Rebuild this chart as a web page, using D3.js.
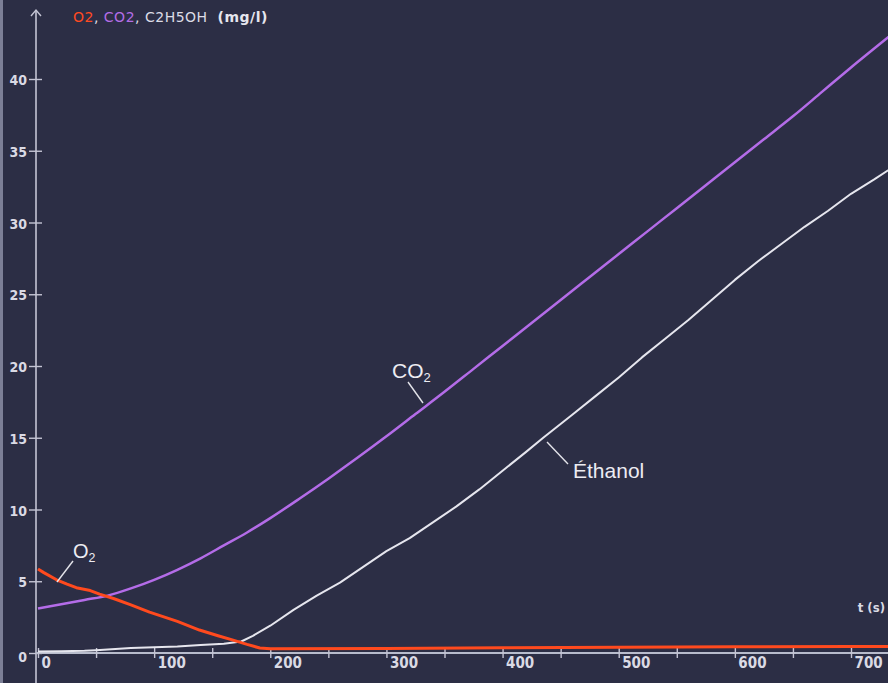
<!DOCTYPE html>
<html>
<head>
<meta charset="utf-8">
<script src="https://cdn.jsdelivr.net/npm/d3@7"></script>
<style>
  html, body { margin: 0; padding: 0; background: #2c2e45; }
  svg { display: block; }
</style>
</head>
<body>
<svg id="chart" width="888" height="683"></svg>
<script>
// ---- data ----
const xTicks = [0, 50, 100, 150, 200, 250, 300, 350, 400, 450, 500, 550, 600, 650, 700];
const yTicks = [0, 5, 10, 15, 20, 25, 30, 35, 40];

const o2T = [0, 5, 16, 25, 33, 45, 53, 65, 80, 96, 120, 139, 155, 168, 180, 191, 200, 300, 400, 500, 600, 700, 735];
const o2V = [5.85, 5.6, 5.1, 4.8, 4.55, 4.35, 4.1, 3.8, 3.35, 2.85, 2.2, 1.6, 1.2, 0.9, 0.6, 0.35, 0.3, 0.32, 0.36, 0.4, 0.43, 0.45, 0.46];

const co2T = [0, 20, 40, 60, 80, 100, 120, 140, 160, 180, 200, 225, 250, 275, 300, 325, 350, 375, 400, 425, 450, 475, 500, 525, 550, 575, 600, 625, 650, 675, 700, 735];
const co2V = [3.1, 3.4, 3.7, 4.0, 4.5, 5.1, 5.8, 6.6, 7.5, 8.4, 9.4, 10.75, 12.15, 13.6, 15.1, 16.65, 18.2, 19.8, 21.4, 23.0, 24.6, 26.2, 27.8, 29.4, 31.0, 32.6, 34.2, 35.8, 37.4, 39.1, 40.8, 43.1];

const ethT = [0, 20, 40, 50, 60, 80, 100, 120, 140, 160, 175, 185, 200, 220, 240, 260, 280, 300, 320, 340, 360, 380, 400, 420, 435, 460, 480, 500, 520, 540, 560, 580, 600, 620, 640, 660, 680, 700, 720, 735];
const ethV = [0.1, 0.12, 0.15, 0.2, 0.25, 0.35, 0.4, 0.45, 0.55, 0.65, 0.8, 1.2, 1.9, 3.0, 4.0, 4.9, 6.0, 7.1, 8.0, 9.1, 10.2, 11.4, 12.7, 14.0, 15.0, 16.6, 17.9, 19.2, 20.6, 21.9, 23.2, 24.6, 26.0, 27.3, 28.5, 29.7, 30.8, 32.0, 33.0, 33.8];

const titleParts = [
  { text: "O2", color: "#ff4a22" },
  { text: ", ", color: "#dcdce6" },
  { text: "CO2", color: "#b36de6" },
  { text: ", C2H5OH  ", color: "#dcdce6" },
  { text: "(mg/l)", color: "#e6e6ee", bold: true }
];

// ---- drawing ----
const svg = d3.select("#chart");
const W = 888, H = 683;

svg.append("rect").attr("width", W).attr("height", H).attr("fill", "#2c2e45");
svg.append("rect").attr("width", 3).attr("height", H).attr("fill", "#7c7f96");

const x = d3.scaleLinear().domain([0, 700]).range([38, 851]);
const y = d3.scaleLinear().domain([0, 40]).range([653, 79]);

const axisColor = "#c4c4d4";
const textColor = "#dadae4";
const tickFont = "DejaVu Sans Condensed, DejaVu Sans, sans-serif";

// Y axis line with arrow
svg.append("line").attr("x1", 36).attr("x2", 36).attr("y1", H).attr("y2", 10)
  .attr("stroke", axisColor).attr("stroke-width", 1.6);
svg.append("polyline").attr("points", "31,16 36,10 41,16")
  .attr("fill", "none").attr("stroke", axisColor).attr("stroke-width", 1.4);

// Y axis ticks + labels
const yAxis = svg.append("g").attr("transform", "translate(42,0)")
  .call(d3.axisLeft(y).tickValues(yTicks).tickSize(13).tickPadding(2));
yAxis.select(".domain").remove();
yAxis.selectAll(".tick line").attr("stroke", axisColor).attr("stroke-width", 1.4);
yAxis.selectAll(".tick text")
  .attr("fill", textColor)
  .attr("font-family", tickFont)
  .attr("font-weight", "bold")
  .attr("font-size", 14)
  .attr("dy", d => d === 0 ? "0.6em" : "0.4em");

// X axis line
svg.append("line").attr("x1", 36).attr("x2", W).attr("y1", y(0)).attr("y2", y(0))
  .attr("stroke", "#b8bccc").attr("stroke-width", 2);

const xAxis = svg.append("g").attr("transform", "translate(0,648)")
  .call(d3.axisBottom(x).tickValues(xTicks).tickSize(10).tickPadding(-1)
    .tickFormat(d => d % 100 === 0 ? d : ""));
xAxis.select(".domain").remove();
xAxis.selectAll(".tick line").attr("stroke", axisColor).attr("stroke-width", 1.4);
xAxis.selectAll(".tick text")
  .attr("fill", textColor)
  .attr("text-anchor", "start")
  .attr("dx", 3)
  .attr("font-family", tickFont)
  .attr("font-weight", "bold")
  .attr("font-size", 15);

// t (s) label
svg.append("text").attr("x", 885).attr("y", 612)
  .attr("text-anchor", "end")
  .attr("fill", textColor)
  .attr("font-family", tickFont)
  .attr("font-weight", "bold").attr("font-size", 13)
  .text("t (s)");

// Title
const title = svg.append("text").attr("x", 73).attr("y", 22)
  .attr("font-family", "DejaVu Sans, sans-serif")
  .attr("font-size", 14)
  .attr("letter-spacing", 0.5)
  .attr("xml:space", "preserve");
titleParts.forEach(p => {
  title.append("tspan").attr("fill", p.color)
    .attr("font-weight", p.bold ? "bold" : "normal")
    .text(p.text);
});

// Lines
const mk = (T, V) => T.map((t, i) => [t, V[i]]);
const line = d3.line().x(d => x(d[0])).y(d => y(d[1]));
const smooth = d3.line().x(d => x(d[0])).y(d => y(d[1])).curve(d3.curveMonotoneX);

svg.append("path").datum(mk(ethT, ethV)).attr("d", line)
  .attr("fill", "none").attr("stroke", "#e6e6ee").attr("stroke-width", 2)
  .attr("stroke-linejoin", "round");
svg.append("path").datum(mk(co2T, co2V)).attr("d", smooth)
  .attr("fill", "none").attr("stroke", "#b46ce8").attr("stroke-width", 2.5);
svg.append("path").datum(mk(o2T, o2V)).attr("d", line)
  .attr("fill", "none").attr("stroke", "#ff4a1e").attr("stroke-width", 3)
  .attr("stroke-linejoin", "round");

// Annotations
const annFont = "Liberation Sans, Arial, sans-serif";
function label(tx, ty, main, sub, lx1, ly1, lx2, ly2, size) {
  svg.append("line").attr("x1", lx1).attr("y1", ly1).attr("x2", lx2).attr("y2", ly2)
    .attr("stroke", "#e4e4ea").attr("stroke-width", 1.4);
  const t = svg.append("text").attr("x", tx).attr("y", ty)
    .attr("fill", "#ececf2").attr("font-family", annFont).attr("font-size", size);
  t.append("tspan").text(main);
  if (sub) t.append("tspan").attr("font-size", size * 0.62).attr("dy", 4).text(sub);
}
label(73, 558, "O", "2", 73, 561, 57, 582, 20);
label(392, 378, "CO", "2", 408, 382, 423, 403, 21);
label(573, 478, "Éthanol", null, 568, 464, 547, 442, 21);
</script>
</body>
</html>
